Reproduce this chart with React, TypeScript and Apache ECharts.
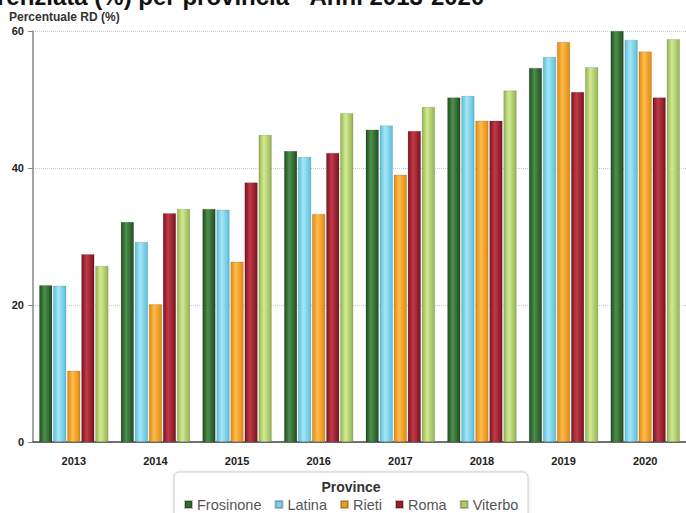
import React, { useEffect, useRef } from "react";
import * as echarts from "echarts";

const years = ["2013", "2014", "2015", "2016", "2017", "2018", "2019", "2020"];
const provinces = ["Frosinone", "Latina", "Rieti", "Roma", "Viterbo"];
const frosinone = [22.9, 32.1, 34.0, 42.5, 45.6, 50.3, 54.6, 60.0];
const latina = [22.8, 29.2, 33.9, 41.6, 46.2, 50.5, 56.2, 58.7];
const rieti = [10.4, 20.1, 26.3, 33.3, 39.0, 46.9, 58.4, 57.0];
const roma = [27.4, 33.4, 37.9, 42.2, 45.4, 46.9, 51.1, 50.3];
const viterbo = [25.7, 34.0, 44.8, 48.0, 48.9, 51.3, 54.7, 58.8];
const yTicks = [0, 20, 40, 60];
const titleText = "renziata (%) per provincia - Anni 2013-2020";
const yAxisTitle = "Percentuale RD (%)";
const legendTitle = "Province";

const seriesData = [frosinone, latina, rieti, roma, viterbo];
const palette = [
  { dark: "#1f4d1f", mid: "#4d8f4d", solid: "#2f6a2f" },
  { dark: "#58bfdc", mid: "#a6e6f7", solid: "#7ad3ee" },
  { dark: "#e08a10", mid: "#ffbb4d", solid: "#f29a1f" },
  { dark: "#7a1320", mid: "#c23a48", solid: "#9c1c2c" },
  { dark: "#93b453", mid: "#d2ea92", solid: "#aecd62" },
];

const FONT = "'Liberation Sans', Arial, sans-serif";

export default function App() {
  const ref = useRef<HTMLDivElement>(null);
  useEffect(() => {
    document.body.style.margin = "0";
    if (!ref.current) return;
    const chart = echarts.init(ref.current, undefined, { renderer: "svg" });
    const option: any = {
      animation: false,
      textStyle: { fontFamily: FONT },
      grid: { left: 33, top: 31, width: 658, height: 411, containLabel: false },
      legend: {
        data: provinces.map((name, i) => ({ name, itemStyle: { color: palette[i].solid } })),
        left: 184,
        top: 497,
        padding: 0,
        itemWidth: 7,
        itemHeight: 7,
        itemGap: 13,
        icon: "rect",
        textStyle: { fontSize: 14.5, lineHeight: 15, color: "#555", fontFamily: FONT },
        z: 10,
      },
      xAxis: {
        type: "category",
        data: years,
        axisLine: { lineStyle: { color: "#444", width: 1.5 } },
        axisTick: { alignWithLabel: true, length: 5, lineStyle: { color: "#444" } },
        axisLabel: { fontSize: 11, fontWeight: "bold", color: "#222", margin: 13 },
      },
      yAxis: {
        type: "value",
        min: 0,
        max: 60,
        interval: 20,
        axisLine: { show: true, lineStyle: { color: "#888", width: 1.5 } },
        axisTick: { show: true, length: 5, lineStyle: { color: "#888" } },
        axisLabel: {
          fontSize: 11,
          fontWeight: "bold",
          color: "#222",
          margin: 9,
          formatter: (v: number) => (yTicks.includes(v) ? String(v) : ""),
        },
        splitLine: { show: true, lineStyle: { color: "#ccc", type: "dotted" } },
      },
      series: provinces.map((name, i) => ({
        name,
        type: "bar",
        data: seriesData[i],
        barWidth: 13,
        barGap: "8%",
        itemStyle: {
          color: new echarts.graphic.LinearGradient(0, 0, 1, 0, [
            { offset: 0, color: palette[i].dark },
            { offset: 0.4, color: palette[i].mid },
            { offset: 1, color: palette[i].dark },
          ]),
          borderColor: "rgba(0,0,0,0.25)",
          borderWidth: 0.5,
        },
      })),
      graphic: [
        {
          type: "text",
          left: -3,
          top: -16,
          style: { text: titleText, fontSize: 24, fontWeight: "bold", fill: "#111", fontFamily: FONT },
        },
        {
          type: "text",
          left: 9,
          top: 11,
          style: { text: yAxisTitle, fontSize: 12, fontWeight: "bold", fill: "#333", fontFamily: FONT },
        },
        {
          type: "rect",
          shape: { x: 174, y: 472, width: 354, height: 50, r: 5 },
          style: { fill: "#fff", stroke: "#ccc", lineWidth: 1, shadowBlur: 3, shadowColor: "rgba(0,0,0,0.12)" },
          z: 1,
        },
        {
          type: "text",
          x: 351,
          y: 480,
          style: { text: legendTitle, fontSize: 14, fontWeight: "bold", fill: "#333", fontFamily: FONT, textAlign: "center" },
          z: 2,
        },
      ],
    };
    chart.setOption(option);
    return () => chart.dispose();
  }, []);
  return <div ref={ref} style={{ width: 686, height: 513 }} />;
}
